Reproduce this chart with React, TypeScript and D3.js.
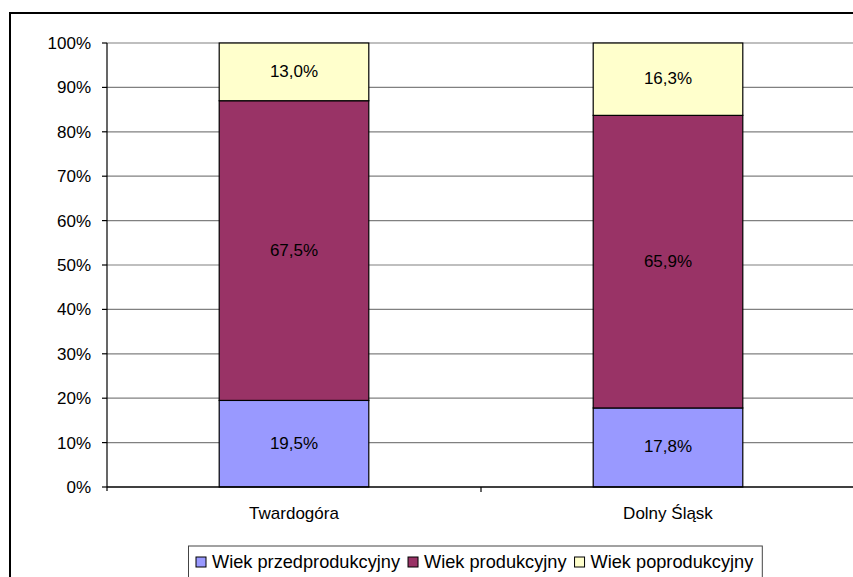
import { useEffect, useRef } from 'react';
import * as d3 from 'd3';

const categories = ['Twardogóra', 'Dolny Śląsk'];
const seriesNames = ['Wiek przedprodukcyjny', 'Wiek produkcyjny', 'Wiek poprodukcyjny'];
const przedprodukcyjny = [19.5, 17.8];
const produkcyjny = [67.5, 65.9];
const poprodukcyjny = [13.0, 16.3];
const yTicks = [0, 10, 20, 30, 40, 50, 60, 70, 80, 90, 100];
const colors = ['#9999FF', '#993366', '#FFFFCC'];

const W = 853;
const H = 577;

export default function App() {
  const ref = useRef<SVGSVGElement>(null);

  useEffect(() => {
    if (!ref.current) return;
    const svg = d3.select(ref.current);
    svg.selectAll('*').remove();

    const font = '"Liberation Sans", Arial, sans-serif';
    const left = 107;
    const top = 43;
    const bottom = 487;
    const right = 855;

    // outer frame (runs off the right and bottom edges)
    svg.append('rect')
      .attr('x', 10).attr('y', 13)
      .attr('width', 900).attr('height', 600)
      .attr('fill', 'white').attr('stroke', 'black').attr('stroke-width', 2);

    const x = d3.scaleBand<string>().domain(categories).range([left, right]).paddingInner(0.6).paddingOuter(0.3);
    const xOuter = d3.scaleBand<string>().domain(categories).range([left, right]);
    const y = d3.scaleLinear().domain([0, 100]).range([bottom, top]);

    // grid
    svg.append('g').selectAll('line').data(yTicks.filter(t => t > 0)).enter().append('line')
      .attr('x1', left).attr('x2', right)
      .attr('y1', d => y(d)).attr('y2', d => y(d))
      .attr('stroke', '#808080').attr('stroke-width', 1.2);

    // stacked bars
    const rows = categories.map((c, i) => ({
      cat: c,
      a: przedprodukcyjny[i],
      b: produkcyjny[i],
      c: poprodukcyjny[i],
    }));
    const stack = d3.stack<any>().keys(['a', 'b', 'c'])(rows);

    stack.forEach((layer, li) => {
      const g = svg.append('g');
      g.selectAll('rect').data(layer).enter().append('rect')
        .attr('x', d => x(d.data.cat)!)
        .attr('width', x.bandwidth())
        .attr('y', d => y(d[1]))
        .attr('height', d => y(d[0]) - y(d[1]))
        .attr('fill', colors[li])
        .attr('stroke', 'black').attr('stroke-width', 1.2);
      g.selectAll('text').data(layer).enter().append('text')
        .attr('x', d => x(d.data.cat)! + x.bandwidth() / 2)
        .attr('y', d => (y(d[0]) + y(d[1])) / 2 - 1)
        .attr('dy', '0.35em')
        .attr('text-anchor', 'middle')
        .attr('font-family', font).attr('font-size', 17)
        .attr('fill', 'black')
        .text(d => (d[1] - d[0]).toFixed(1).replace('.', ',') + '%');
    });

    // y axis
    svg.append('line').attr('x1', left).attr('x2', left).attr('y1', top).attr('y2', bottom + 4)
      .attr('stroke', 'black').attr('stroke-width', 1.2);
    const yt = svg.append('g');
    yt.selectAll('line').data(yTicks).enter().append('line')
      .attr('x1', left - 5).attr('x2', left)
      .attr('y1', d => y(d)).attr('y2', d => y(d))
      .attr('stroke', 'black').attr('stroke-width', 1.2);
    yt.selectAll('text').data(yTicks).enter().append('text')
      .attr('x', 91).attr('y', d => y(d)).attr('dy', '0.35em')
      .attr('text-anchor', 'end')
      .attr('font-family', font).attr('font-size', 17)
      .text(d => `${d}%`);

    // x axis
    svg.append('line').attr('x1', left).attr('x2', right).attr('y1', bottom).attr('y2', bottom)
      .attr('stroke', 'black').attr('stroke-width', 1.5);
    svg.append('g').selectAll('line').data(categories.slice(1)).enter().append('line')
      .attr('x1', d => xOuter(d)!).attr('x2', d => xOuter(d)!)
      .attr('y1', bottom).attr('y2', bottom + 5)
      .attr('stroke', 'black').attr('stroke-width', 1.2);
    svg.append('g').selectAll('text').data(categories).enter().append('text')
      .attr('x', d => x(d)! + x.bandwidth() / 2)
      .attr('y', 519)
      .attr('text-anchor', 'middle')
      .attr('font-family', font).attr('font-size', 17)
      .text(d => d);

    // legend
    const legend = svg.append('g');
    const box = legend.append('rect')
      .attr('x', 188.5).attr('y', 546)
      .attr('height', 60).attr('fill', 'white')
      .attr('stroke', '#444').attr('stroke-width', 1);
    let cx = 196;
    seriesNames.forEach((name, i) => {
      legend.append('rect')
        .attr('x', cx).attr('y', 557).attr('width', 10).attr('height', 10)
        .attr('fill', colors[i]).attr('stroke', 'black').attr('stroke-width', 1);
      const t = legend.append('text')
        .attr('x', cx + 16).attr('y', 568)
        .attr('font-family', font).attr('font-size', 18.2)
        .text(name);
      const w = (t.node() as SVGTextElement).getComputedTextLength();
      cx = cx + 16 + w + 8;
    });
    box.attr('width', cx - 188.5 + 1);
  }, []);

  return (
    <svg
      ref={ref}
      width={W}
      height={H}
      style={{ position: 'absolute', left: 0, top: 0, display: 'block', background: 'white' }}
    />
  );
}
